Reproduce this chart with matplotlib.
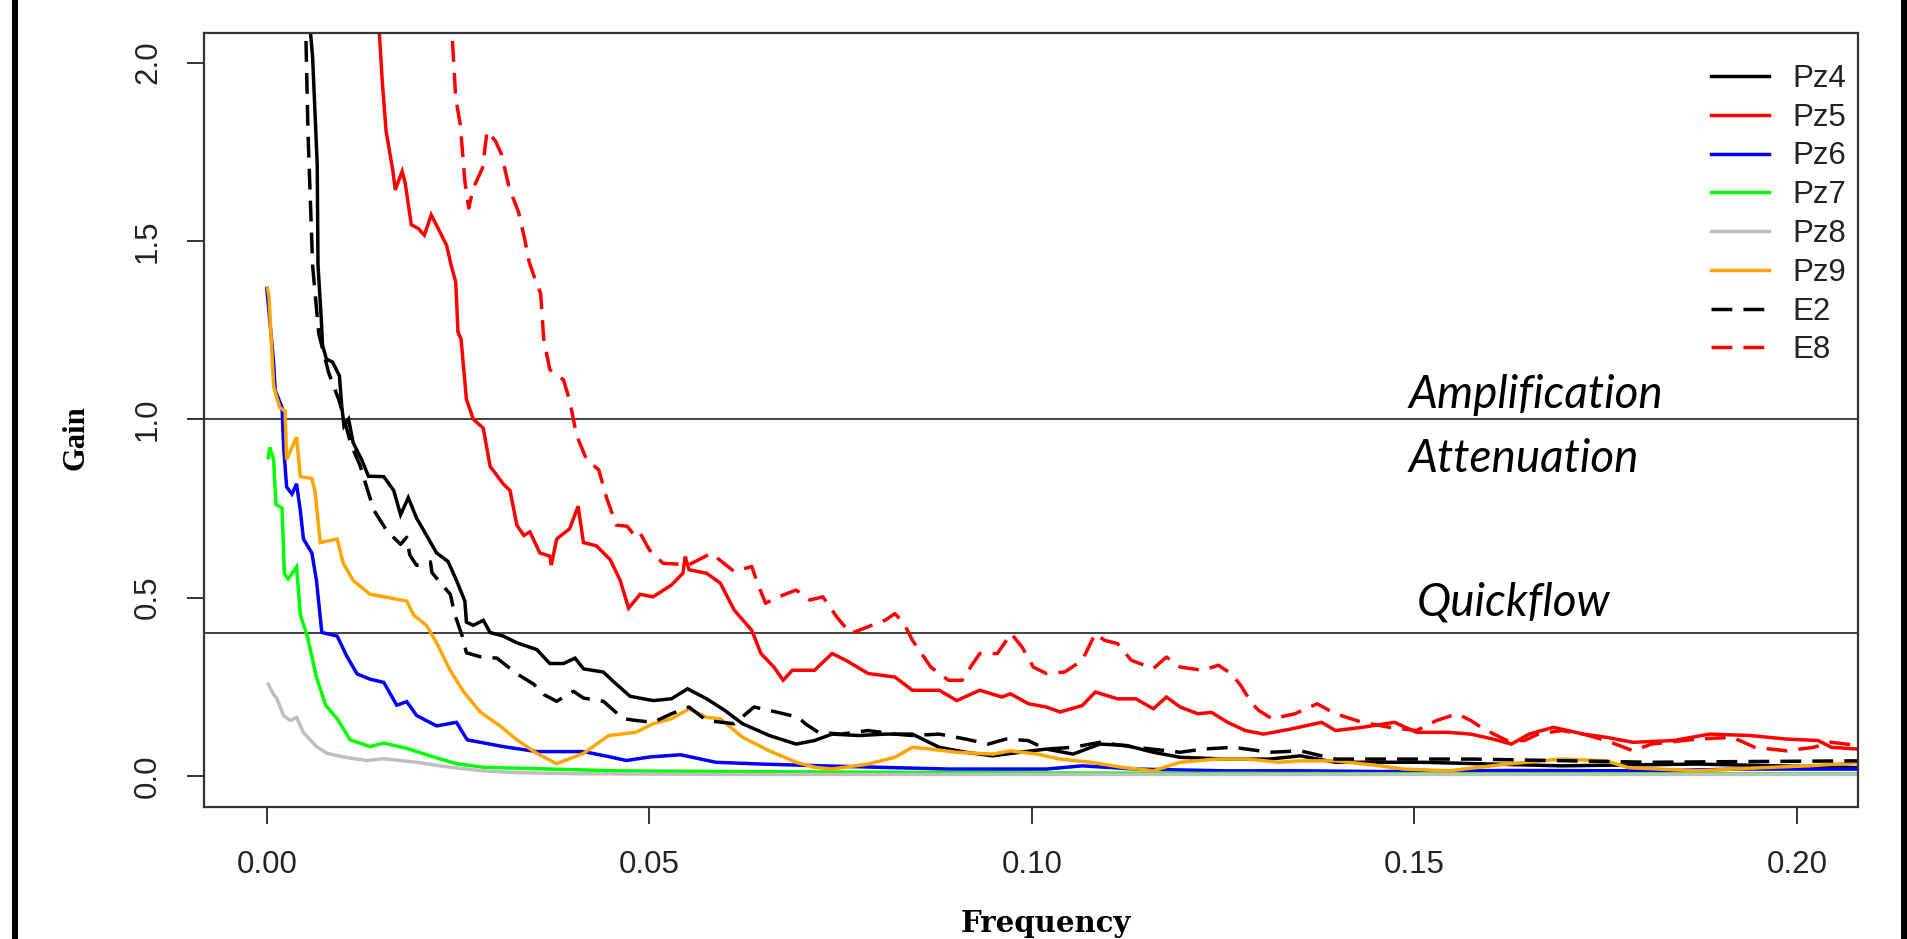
import numpy as np
import matplotlib
matplotlib.use("agg")
import matplotlib.pyplot as plt
from matplotlib.patches import Rectangle

plt.rcParams["lines.scale_dashes"] = False

W, H = 1907, 939

# gain curves, frequency -> gain
pz4_f = [0.0054, 0.0057, 0.0060, 0.0066, 0.0067, 0.0071, 0.0073, 0.0078, 0.0086, 0.0095, 0.0098,
         0.0101, 0.0107, 0.0113, 0.0124, 0.0133, 0.0153, 0.0166, 0.0175, 0.0185, 0.0196, 0.0209,
         0.0222, 0.0237, 0.0248, 0.0259, 0.0261, 0.0270, 0.0283, 0.0292, 0.0309, 0.0327, 0.0353,
         0.0370, 0.0388, 0.0403, 0.0414, 0.0440, 0.0457, 0.0475, 0.0505, 0.0529, 0.0550, 0.0575,
         0.0599, 0.0622, 0.0657, 0.0692, 0.0716, 0.0739, 0.0774, 0.0809, 0.0844, 0.0879, 0.0914,
         0.0949, 0.0984, 0.1019, 0.1054, 0.1089, 0.1124, 0.1159, 0.1194, 0.1253, 0.1311, 0.1351,
         0.1397, 0.1510, 0.1692, 0.1869, 0.2080]
pz4_g = [2.15, 2.09, 2.014, 1.714, 1.432, 1.291, 1.207, 1.169, 1.160, 1.122, 1.037,
         0.981, 1.000, 0.934, 0.887, 0.840, 0.839, 0.800, 0.732, 0.780, 0.722, 0.674,
         0.625, 0.601, 0.548, 0.490, 0.431, 0.422, 0.436, 0.402, 0.392, 0.373, 0.354,
         0.315, 0.315, 0.330, 0.300, 0.291, 0.257, 0.223, 0.211, 0.216, 0.244, 0.216,
         0.183, 0.146, 0.113, 0.089, 0.099, 0.117, 0.113, 0.117, 0.117, 0.080, 0.066,
         0.056, 0.066, 0.075, 0.061, 0.089, 0.085, 0.066, 0.052, 0.047, 0.047, 0.056,
         0.038, 0.038, 0.028, 0.033, 0.023]

pz5_f = [0.0145, 0.0147, 0.0151, 0.0156, 0.0165, 0.0168, 0.0177, 0.0181, 0.0189, 0.0198, 0.0206,
         0.0215, 0.0224, 0.0235, 0.0241, 0.0247, 0.0250, 0.0254, 0.0261, 0.0270, 0.0283, 0.0292,
         0.0309, 0.0318, 0.0327, 0.0336, 0.0344, 0.0357, 0.0370, 0.0372, 0.0379, 0.0396, 0.0407,
         0.0414, 0.0431, 0.0449, 0.0462, 0.0473, 0.0488, 0.0505, 0.0529, 0.0544, 0.0547, 0.0552,
         0.0575, 0.0593, 0.0611, 0.0634, 0.0646, 0.0663, 0.0675, 0.0687, 0.0716, 0.0739, 0.0757,
         0.0786, 0.0821, 0.0844, 0.0879, 0.0902, 0.0932, 0.0961, 0.0972, 0.0996, 0.1019, 0.1037,
         0.1066, 0.1083, 0.1112, 0.1136, 0.1159, 0.1176, 0.1194, 0.1217, 0.1235, 0.1256, 0.1279,
         0.1303, 0.1338, 0.1379, 0.1397, 0.1432, 0.1474, 0.1503, 0.1544, 0.1574, 0.1603, 0.1627,
         0.1650, 0.1682, 0.1721, 0.1751, 0.1786, 0.1839, 0.1886, 0.1939, 0.1987, 0.2028, 0.2045,
         0.2080]
pz5_g = [2.15, 2.09, 1.948, 1.808, 1.695, 1.643, 1.695, 1.662, 1.545, 1.535, 1.516,
         1.573, 1.535, 1.488, 1.432, 1.385, 1.244, 1.225, 1.056, 1.000, 0.975, 0.868,
         0.819, 0.800, 0.703, 0.674, 0.684, 0.625, 0.616, 0.591, 0.664, 0.693, 0.756,
         0.654, 0.645, 0.606, 0.548, 0.470, 0.509, 0.502, 0.535, 0.568, 0.615, 0.578,
         0.568, 0.540, 0.465, 0.408, 0.343, 0.305, 0.268, 0.296, 0.296, 0.343, 0.324,
         0.287, 0.277, 0.240, 0.240, 0.211, 0.240, 0.221, 0.230, 0.202, 0.193, 0.179,
         0.197, 0.235, 0.216, 0.216, 0.188, 0.221, 0.193, 0.174, 0.178, 0.150, 0.127,
         0.117, 0.131, 0.150, 0.127, 0.136, 0.150, 0.122, 0.122, 0.117, 0.103, 0.089,
         0.117, 0.136, 0.117, 0.108, 0.094, 0.099, 0.117, 0.113, 0.103, 0.099, 0.080,
         0.075]

pz6_f = [0.0000, 0.0002, 0.0009, 0.0011, 0.0020, 0.0022, 0.0026, 0.0033, 0.0039, 0.0044, 0.0048,
         0.0059, 0.0065, 0.0072, 0.0092, 0.0105, 0.0118, 0.0135, 0.0153, 0.0170, 0.0183, 0.0196,
         0.0222, 0.0248, 0.0262, 0.0309, 0.0353, 0.0414, 0.0449, 0.0470, 0.0501, 0.0541, 0.0552,
         0.0587, 0.0646, 0.0727, 0.0891, 0.1019, 0.1066, 0.1136, 0.1253, 0.1351, 0.1456, 0.1621,
         0.1810, 0.1928, 0.2080]
pz6_g = [1.367, 1.324, 1.159, 1.081, 1.033, 0.926, 0.810, 0.790, 0.819, 0.742, 0.664,
         0.625, 0.548, 0.402, 0.392, 0.334, 0.286, 0.271, 0.262, 0.198, 0.208, 0.169,
         0.140, 0.150, 0.101, 0.082, 0.068, 0.068, 0.053, 0.043, 0.053, 0.059, 0.054,
         0.038, 0.033, 0.028, 0.019, 0.019, 0.028, 0.019, 0.014, 0.014, 0.012, 0.015,
         0.014, 0.019, 0.019]

pz7_f = [0.0002, 0.0004, 0.0009, 0.0012, 0.0020, 0.0023, 0.0028, 0.0039, 0.0044, 0.0053, 0.0065,
         0.0077, 0.0092, 0.0109, 0.0135, 0.0153, 0.0183, 0.0218, 0.0248, 0.0283, 0.0370, 0.0457,
         0.0600, 0.0800, 0.1000, 0.1200, 0.1500, 0.1800, 0.2080]
pz7_g = [0.892, 0.921, 0.887, 0.761, 0.751, 0.567, 0.552, 0.586, 0.451, 0.392, 0.276,
         0.198, 0.160, 0.101, 0.082, 0.092, 0.077, 0.053, 0.034, 0.024, 0.019, 0.014,
         0.012, 0.010, 0.008, 0.007, 0.006, 0.006, 0.005]

pz8_f = [0.0002, 0.0009, 0.0013, 0.0022, 0.0031, 0.0039, 0.0048, 0.0065, 0.0079, 0.0100, 0.0131,
         0.0153, 0.0196, 0.0240, 0.0283, 0.0327, 0.0400, 0.0600, 0.1000, 0.1500, 0.2080]
pz8_g = [0.257, 0.228, 0.218, 0.169, 0.155, 0.164, 0.121, 0.082, 0.063, 0.053, 0.043,
         0.048, 0.038, 0.024, 0.014, 0.009, 0.006, 0.004, 0.004, 0.004, 0.004]

pz9_f = [0.0001, 0.0003, 0.0009, 0.0017, 0.0024, 0.0026, 0.0039, 0.0044, 0.0059, 0.0063, 0.0070,
         0.0092, 0.0100, 0.0113, 0.0135, 0.0161, 0.0183, 0.0192, 0.0209, 0.0222, 0.0240, 0.0257,
         0.0279, 0.0305, 0.0327, 0.0353, 0.0379, 0.0414, 0.0447, 0.0482, 0.0505, 0.0529, 0.0552,
         0.0575, 0.0593, 0.0622, 0.0657, 0.0692, 0.0716, 0.0739, 0.0786, 0.0821, 0.0844, 0.0867,
         0.0902, 0.0949, 0.0972, 0.1007, 0.1037, 0.1077, 0.1118, 0.1159, 0.1194, 0.1241, 0.1282,
         0.1323, 0.1351, 0.1397, 0.1456, 0.1486, 0.1545, 0.1621, 0.1692, 0.1751, 0.1780, 0.1869,
         0.1957, 0.2016, 0.2080]
pz9_g = [1.367, 1.343, 1.091, 1.033, 1.023, 0.887, 0.950, 0.839, 0.834, 0.800, 0.654,
         0.664, 0.596, 0.548, 0.509, 0.499, 0.490, 0.451, 0.421, 0.373, 0.295, 0.237,
         0.179, 0.140, 0.101, 0.063, 0.034, 0.063, 0.113, 0.122, 0.146, 0.160, 0.188,
         0.164, 0.160, 0.108, 0.070, 0.038, 0.024, 0.019, 0.033, 0.052, 0.080, 0.075,
         0.066, 0.061, 0.070, 0.061, 0.047, 0.038, 0.024, 0.014, 0.038, 0.047, 0.047,
         0.038, 0.042, 0.042, 0.028, 0.019, 0.014, 0.033, 0.047, 0.042, 0.023, 0.014,
         0.023, 0.028, 0.037]

e2_f = [0.0049, 0.0051, 0.0054, 0.0060, 0.0068, 0.0081, 0.0095, 0.0110, 0.0122, 0.0132, 0.0140,
        0.0157, 0.0175, 0.0183, 0.0187, 0.0196, 0.0214, 0.0216, 0.0227, 0.0240, 0.0246, 0.0257,
        0.0261, 0.0279, 0.0301, 0.0327, 0.0349, 0.0362, 0.0379, 0.0401, 0.0414, 0.0440, 0.0466,
        0.0484, 0.0505, 0.0529, 0.0552, 0.0575, 0.0611, 0.0637, 0.0666, 0.0695, 0.0704, 0.0721,
        0.0751, 0.0786, 0.0821, 0.0844, 0.0879, 0.0914, 0.0943, 0.0966, 0.0995, 0.1019, 0.1054,
        0.1089, 0.1136, 0.1194, 0.1223, 0.1264, 0.1311, 0.1351, 0.1397, 0.1574, 0.1810, 0.1928,
        0.2080]
e2_g = [2.15, 2.09, 1.80, 1.43, 1.24, 1.13, 1.05, 0.93, 0.87, 0.80, 0.745,
        0.687, 0.649, 0.669, 0.619, 0.590, 0.600, 0.570, 0.541, 0.509, 0.451, 0.383,
        0.345, 0.334, 0.330, 0.286, 0.257, 0.228, 0.209, 0.237, 0.218, 0.209, 0.160,
        0.155, 0.150, 0.174, 0.193, 0.155, 0.146, 0.193, 0.179, 0.164, 0.146, 0.122,
        0.117, 0.127, 0.117, 0.113, 0.117, 0.103, 0.089, 0.103, 0.099, 0.075, 0.080,
        0.094, 0.080, 0.066, 0.075, 0.080, 0.066, 0.070, 0.047, 0.047, 0.038, 0.040,
        0.042]

e8_f = [0.0240, 0.0242, 0.0247, 0.0253, 0.0259, 0.0264, 0.0270, 0.0282, 0.0288, 0.0299, 0.0307,
        0.0317, 0.0329, 0.0337, 0.0343, 0.0352, 0.0358, 0.0362, 0.0370, 0.0381, 0.0388, 0.0396,
        0.0405, 0.0418, 0.0434, 0.0444, 0.0457, 0.0471, 0.0482, 0.0488, 0.0500, 0.0518, 0.0552,
        0.0581, 0.0611, 0.0634, 0.0640, 0.0652, 0.0669, 0.0692, 0.0710, 0.0727, 0.0745, 0.0763,
        0.0786, 0.0809, 0.0821, 0.0833, 0.0844, 0.0868, 0.0891, 0.0909, 0.0920, 0.0932, 0.0955,
        0.0973, 0.0987, 0.1002, 0.1019, 0.1043, 0.1066, 0.1083, 0.1095, 0.1112, 0.1130, 0.1159,
        0.1176, 0.1194, 0.1223, 0.1244, 0.1261, 0.1273, 0.1288, 0.1297, 0.1314, 0.1344, 0.1373,
        0.1397, 0.1432, 0.1468, 0.1503, 0.1529, 0.1556, 0.1574, 0.1591, 0.1621, 0.1644, 0.1662,
        0.1692, 0.1721, 0.1751, 0.1786, 0.1810, 0.1869, 0.1916, 0.1945, 0.1987, 0.2022, 0.2045,
        0.2080]
e8_g = [2.15, 2.089, 1.901, 1.826, 1.667, 1.592, 1.648, 1.704, 1.808, 1.780, 1.742,
        1.648, 1.582, 1.507, 1.441, 1.385, 1.353, 1.226, 1.139, 1.122, 1.110, 1.052,
        0.955, 0.887, 0.858, 0.781, 0.703, 0.700, 0.671, 0.681, 0.634, 0.596, 0.592,
        0.624, 0.573, 0.587, 0.549, 0.484, 0.502, 0.521, 0.493, 0.502, 0.446, 0.399,
        0.418, 0.437, 0.455, 0.427, 0.380, 0.305, 0.268, 0.268, 0.305, 0.343, 0.343,
        0.399, 0.362, 0.305, 0.287, 0.291, 0.324, 0.399, 0.380, 0.371, 0.324, 0.301,
        0.333, 0.305, 0.296, 0.310, 0.286, 0.254, 0.202, 0.183, 0.160, 0.174, 0.202,
        0.174, 0.150, 0.136, 0.127, 0.155, 0.174, 0.155, 0.131, 0.099, 0.099, 0.117,
        0.127, 0.117, 0.099, 0.070, 0.089, 0.103, 0.108, 0.080, 0.070, 0.080, 0.094,
        0.085]

names = ["Pz4", "Pz5", "Pz6", "Pz7", "Pz8", "Pz9", "E2", "E8"]
colors = ["black", "#ff0000", "#0000ff", "#00ff00", "#bebebe", "#ffa500", "black", "#ff0000"]
series = [(pz4_f, pz4_g), (pz5_f, pz5_g), (pz6_f, pz6_g), (pz7_f, pz7_g),
          (pz8_f, pz8_g), (pz9_f, pz9_g), (e2_f, e2_g), (e8_f, e8_g)]

x_ticks = [0.00, 0.05, 0.10, 0.15, 0.20]
y_ticks = [0.0, 0.5, 1.0, 1.5, 2.0]
ref_lines = [1.0, 0.4]

fig = plt.figure(figsize=(W / 100, H / 100), dpi=100)
ax = fig.add_axes([204 / W, 1 - 806.5 / H, (1858 - 204) / W, (806.5 - 33) / H])

for name, col, (f, g) in zip(names, colors, series):
    ls = (0, (15, 8)) if name.startswith("E") else "-"
    ax.plot(np.asarray(f), np.asarray(g), color=col, lw=2.5, ls=ls, label=name,
            solid_joinstyle="miter")

for y in ref_lines:
    ax.axhline(y, color="#333333", lw=1.3, zorder=1)

ax.set_xlim(-0.0082, 0.2080)
ax.set_ylim(-0.086, 2.083)
ax.set_xticks(x_ticks)
ax.set_xticklabels(["%.2f" % v for v in x_ticks])
ax.set_yticks(y_ticks)
ax.set_yticklabels(["%.1f" % v for v in y_ticks])
for s in ax.spines.values():
    s.set_linewidth(1.6)
    s.set_color("#333333")

ax.tick_params(axis="both", direction="out", length=12.5, width=1.4, color="#333333",
               labelcolor="#222222")
ax.tick_params(axis="x", pad=19)
ax.tick_params(axis="y", pad=17, labelrotation=90)
for lab in ax.get_xticklabels() + ax.get_yticklabels():
    lab.set_fontfamily("Liberation Sans")
    lab.set_fontsize(22.5)
for lab in ax.get_yticklabels():
    lab.set_va("center")

leg = ax.legend(loc="upper right", bbox_to_anchor=(1846 / W, 1 - 64 / H),
                bbox_transform=fig.transFigure, frameon=False, borderpad=0,
                borderaxespad=0, handlelength=1.85, handletextpad=0.75,
                labelspacing=0.28, prop={"family": "Liberation Sans", "size": 22.5})
for t in leg.get_texts():
    t.set_color("#222222")

# axis titles
fig.text(76 / W, 1 - 438 / H, "Gain", rotation=90, ha="center", va="center",
         family="Liberation Serif", weight="bold", size=22)
fig.text(1046 / W, 1 - 932 / H, "Frequency", ha="center", va="baseline",
         family="DejaVu Serif", weight="bold", size=21)

# region labels
ann = {"family": "Lato", "style": "italic", "size": 33, "color": "black"}
fig.text(1408 / W, 1 - 408 / H, "Amplification", ha="left", va="baseline", **ann)
fig.text(1408 / W, 1 - 472 / H, "Attenuation", ha="left", va="baseline", **ann)
fig.text(1417 / W, 1 - 615 / H, "Quickflow", ha="left", va="baseline", **ann)

# black frame bars at the image edges
fig.add_artist(Rectangle((12 / W, 0), 6 / W, 1, transform=fig.transFigure,
                         color="black", lw=0))
fig.add_artist(Rectangle((1901 / W, 0), 6 / W, 1, transform=fig.transFigure,
                         color="black", lw=0))

fig.savefig("out.png", dpi=100)
plt.close(fig)
